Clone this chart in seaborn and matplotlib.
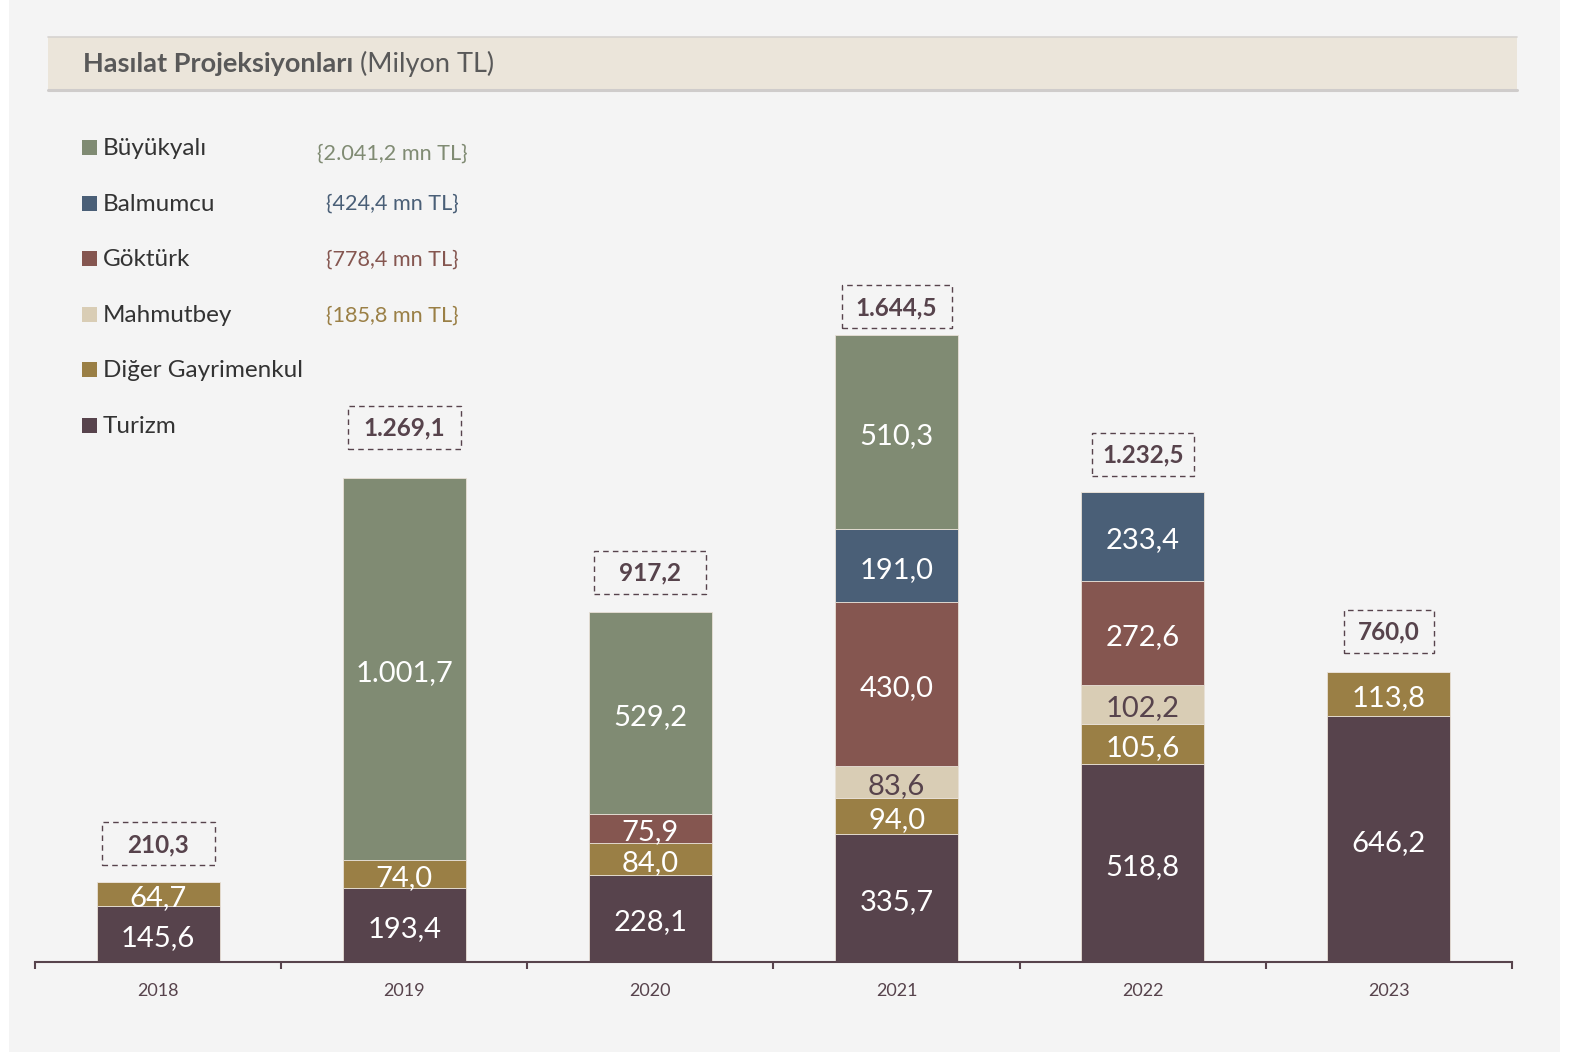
import numpy as np
import pandas as pd
import seaborn as sns
import matplotlib
matplotlib.use("Agg")
import matplotlib.pyplot as plt
from matplotlib.patches import Rectangle
from matplotlib.lines import Line2D
from matplotlib.transforms import IdentityTransform

# ---------------- data ----------------
years = ["2018", "2019", "2020", "2021", "2022", "2023"]
series_names = ["Turizm", "Diğer Gayrimenkul", "Mahmutbey", "Göktürk", "Balmumcu", "Büyükyalı"]
turizm = [145.6, 193.4, 228.1, 335.7, 518.8, 646.2]
diger = [64.7, 74.0, 84.0, 94.0, 105.6, 113.8]
mahmutbey = [0, 0, 0, 83.6, 102.2, 0]
gokturk = [0, 0, 75.9, 430.0, 272.6, 0]
balmumcu = [0, 0, 0, 191.0, 233.4, 0]
buyukyali = [0, 1001.7, 529.2, 510.3, 0, 0]
totals = [210.3, 1269.1, 917.2, 1644.5, 1232.5, 760.0]
project_names = ["Büyükyalı", "Balmumcu", "Göktürk", "Mahmutbey"]
project_totals = [2041.2, 424.4, 778.4, 185.8]
title_bold = "Hasılat Projeksiyonları"
title_rest = " (Milyon TL)"

series_values = [turizm, diger, mahmutbey, gokturk, balmumcu, buyukyali]

# ---------------- style ----------------
colors = {
    "Turizm": "#57434c",
    "Diğer Gayrimenkul": "#9a7f45",
    "Mahmutbey": "#d9cdb5",
    "Göktürk": "#855650",
    "Balmumcu": "#4a5f77",
    "Büyükyalı": "#808b73",
}
brace_colors = {
    "Büyükyalı": "#808b73",
    "Balmumcu": "#4a5f77",
    "Göktürk": "#855650",
    "Mahmutbey": "#9a7f45",
}
DARK = "#57434c"

sns.set_theme(style="white")
plt.rcParams["font.family"] = ["Lato", "DejaVu Sans"]

W, H = 1573, 1052
fig = plt.figure(figsize=(W / 100, H / 100), dpi=100, facecolor="white")


def fx(px):
    return px / W


def fy(py):
    return 1 - py / H


def tr(v):
    s = f"{v:,.1f}"
    return s.replace(",", "X").replace(".", ",").replace("X", ".")


# background panel
fig.patches.append(Rectangle((fx(9), 0), fx(1560) - fx(9), 1, transform=fig.transFigure,
                             facecolor="#f4f4f4", edgecolor="none", zorder=-5))
# title band
fig.patches.append(Rectangle((fx(48), fy(90)), fx(1517) - fx(48), fy(37) - fy(90),
                             transform=fig.transFigure, facecolor="#ebe5da", edgecolor="none", zorder=-4))
fig.lines.append(Line2D([fx(48), fx(1517)], [fy(37), fy(37)], transform=fig.transFigure,
                        color="#d6d3d0", lw=1.2, zorder=-3))
fig.lines.append(Line2D([fx(48), fx(1517)], [fy(90), fy(90)], transform=fig.transFigure,
                        color="#cfcccb", lw=2.2, zorder=-3))
t1 = fig.text(fx(83), fy(64), title_bold, fontsize=19.5, fontweight="bold", color="#595959",
              va="center", ha="left", zorder=3)
renderer = fig.canvas.get_renderer()
bb = t1.get_window_extent(renderer=renderer)
fig.text(bb.x1 / W, fy(64), title_rest, fontsize=19.5, color="#595959", va="center", ha="left", zorder=3)

# ---------------- axes ----------------
ax = fig.add_axes([fx(35), fy(962), fx(1512) - fx(35), fy(100) - fy(962)])
ax.set_zorder(1)
ax.patch.set_alpha(0)

bottom = np.zeros(len(years))
for name, vals in zip(series_names, series_values):
    vals = np.array(vals, dtype=float)
    sns.barplot(x=years, y=vals, bottom=bottom, color=colors[name], width=0.5, saturation=1,
                errorbar=None, edgecolor="#e8e0d6", linewidth=0.6, ax=ax, zorder=3)
    bottom = bottom + vals

ax.set_xlim(-0.5, len(years) - 0.5)
ax.set_ylim(0, (962 - 100) / 0.3813)

# segment labels
bottom = np.zeros(len(years))
for name, vals in zip(series_names, series_values):
    for i, v in enumerate(vals):
        if v > 0:
            ax.annotate(tr(v), xy=(i, bottom[i] + v / 2), xytext=(0, -4), textcoords="offset pixels",
                        ha="center", va="center", fontsize=21,
                        color=DARK if name == "Mahmutbey" else "white", zorder=5)
    bottom = bottom + np.array(vals, dtype=float)

# axis styling
for s in ["left", "right", "top"]:
    ax.spines[s].set_visible(False)
ax.spines["bottom"].set_color(DARK)
ax.spines["bottom"].set_linewidth(1.5)
ax.spines["bottom"].set_zorder(6)
ax.set_yticks([])
ax.set_xticks(range(len(years)))
ax.set_xticklabels(years)
ax.set_xticks(np.arange(-0.5, len(years), 1.0), minor=True)
ax.tick_params(axis="x", which="major", length=0, pad=15, labelsize=13, labelcolor=DARK)
ax.tick_params(axis="x", which="minor", length=5, width=1.5, color=DARK, direction="out", bottom=True)
ax.set_xlabel("")
ax.set_ylabel("")
ax.grid(False)

# total boxes
label_offsets = [38, 51, 40, 28, 38, 41]
box_widths = [113, 113, 112, 110, 102, 90]
box_h = 43
for i, tot in enumerate(totals):
    px, py = ax.transData.transform((i, tot))
    cy = py + label_offsets[i]
    fig.patches.append(Rectangle((px - box_widths[i] / 2, cy - box_h / 2), box_widths[i], box_h,
                                 transform=IdentityTransform(), facecolor="none", edgecolor=DARK,
                                 lw=1.0, linestyle=(0, (4, 3)), zorder=6))
    fig.text(px / W, (cy - 1) / H, tr(tot), transform=fig.transFigure, ha="center", va="center",
             fontsize=17.5, fontweight="bold", color=DARK, zorder=7)

# legend (manual)
row_y0, row_dy = 148.5, 55.6
for k, name in enumerate(reversed(series_names)):
    y = row_y0 + k * row_dy
    fig.patches.append(Rectangle((fx(82), fy(y - 1 + 7.5)), 15 / W, 15 / H, transform=fig.transFigure,
                                 facecolor=colors[name], edgecolor="none", zorder=4))
    fig.text(fx(103), fy(y), name, fontsize=17.5, color="#333333", va="center", ha="left", zorder=4)
    if name in project_names:
        total = project_totals[project_names.index(name)]
        fig.text(fx(392), fy(y + (5 if k == 0 else 0)), "{" + tr(total) + " mn TL}", fontsize=15.6,
                 color=brace_colors[name], va="center", ha="center", zorder=4)

fig.savefig("out.png", dpi=100, facecolor=fig.get_facecolor())
